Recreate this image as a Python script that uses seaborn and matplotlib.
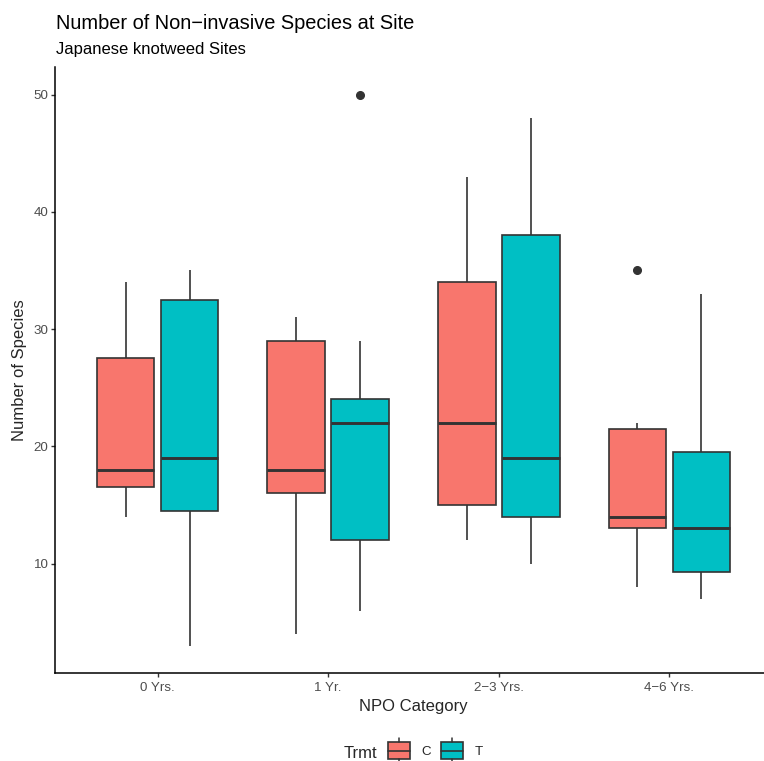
import matplotlib
matplotlib.use("Agg")
import matplotlib.pyplot as plt
from matplotlib.patches import Rectangle
from matplotlib.lines import Line2D
from matplotlib.legend_handler import HandlerBase
import numpy as np
import pandas as pd
import seaborn as sns

# ---------------- data ----------------
categories = ["0 Yrs.", "1 Yr.", "2\u22123 Yrs.", "4\u22126 Yrs."]
treatments = ["C", "T"]
trmt_colors = ["#F8766D", "#00BFC4"]

species_c_0yrs = [14, 16, 17, 18, 27, 28, 34]
species_t_0yrs = [3, 14, 15, 19, 32, 33, 35]
species_c_1yr = [4, 15, 17, 18, 28, 30, 31]
species_t_1yr = [6, 10, 12, 20, 22, 23, 24, 29, 50]
species_c_23yrs = [12, 14, 16, 22, 33, 35, 43]
species_t_23yrs = [10, 13, 15, 19, 37, 39, 48]
species_c_46yrs = [8, 12, 13, 13, 14, 14, 20, 22, 22, 35]
species_t_46yrs = [7, 8, 9, 10, 13, 13, 18, 20, 25, 33]

y_ticks = [10, 20, 30, 40, 50]

groups = [
    (categories[0], "C", species_c_0yrs), (categories[0], "T", species_t_0yrs),
    (categories[1], "C", species_c_1yr), (categories[1], "T", species_t_1yr),
    (categories[2], "C", species_c_23yrs), (categories[2], "T", species_t_23yrs),
    (categories[3], "C", species_c_46yrs), (categories[3], "T", species_t_46yrs),
]
rows = [(cat, trt, v) for cat, trt, vals in groups for v in vals]
df = pd.DataFrame(rows, columns=["category", "trmt", "species"])

# ---------------- style ----------------
sns.set_style("ticks")
plt.rcParams["font.family"] = ["Liberation Sans", "DejaVu Sans"]

W, H = 764, 761
fig = plt.figure(figsize=(W / 100, H / 100), dpi=100)
ax = fig.add_axes([55.3 / W, 1 - 673.3 / H, 716.4 / W, 606.3 / H])

edge = "#333333"
sns.boxplot(
    data=df, x="category", y="species", hue="trmt",
    order=categories, hue_order=treatments, palette=trmt_colors,
    saturation=1, width=0.75, gap=0.1, linecolor=edge, linewidth=1.2,
    showcaps=False,
    medianprops=dict(linewidth=2.1, color=edge),
    flierprops=dict(marker="o", markersize=5.5, markerfacecolor=edge,
                    markeredgecolor=edge),
    legend=False, ax=ax,
)

ax.set_xlim(-0.6, 3.6)
ax.set_ylim(0.65, 52.35)
ax.set_yticks(y_ticks)
ax.set_xlabel("")
ax.set_ylabel("")
for s in ["top", "right"]:
    ax.spines[s].set_visible(False)
for s in ["left", "bottom"]:
    ax.spines[s].set_linewidth(1.1)
    ax.spines[s].set_color("black")
ax.tick_params(length=2.8, width=1.0, color=edge, labelcolor="#4D4D4D",
               labelsize=9.6, pad=2.2)
ax.tick_params(axis="x", pad=3.2)

# ---------------- texts ----------------
fig.text(56 / W, 1 - 29 / H, "Number of Non\u2212invasive Species at Site",
         fontsize=14.4, va="baseline", ha="left", color="black")
fig.text(56 / W, 1 - 54 / H, "Japanese knotweed Sites",
         fontsize=12, va="baseline", ha="left", color="black")
fig.text(413.5 / W, 1 - 710.7 / H, "NPO Category", fontsize=12,
         va="baseline", ha="center")
fig.text(20.0 / W, 1 - 370 / H, "Number of Species", fontsize=12,
         va="center", ha="center", rotation=90)


# ---------------- legend ----------------
class BoxKeyHandler(HandlerBase):
    def __init__(self, color):
        super().__init__()
        self.color = color

    def create_artists(self, legend, orig_handle, xdescent, ydescent,
                       width, height, fontsize, trans):
        x0, y0 = -xdescent, -ydescent
        cy = y0 + height / 2
        bh = height * 0.95
        by = cy - bh / 2
        stub = height * 0.22
        rect = Rectangle((x0, by), width, bh, facecolor=self.color,
                         edgecolor=edge, linewidth=1.2, transform=trans)
        cx = x0 + width / 2
        med = Line2D([x0, x0 + width], [cy, cy], color=edge,
                     linewidth=1.2, transform=trans)
        top = Line2D([cx, cx], [by + bh, by + bh + stub], color=edge,
                     linewidth=1.1, transform=trans)
        bot = Line2D([cx, cx], [by - stub, by], color=edge, linewidth=1.1,
                     transform=trans)
        return [rect, med, top, bot]


fig.text(344 / W, 1 - 758.5 / H, "Trmt", fontsize=12, va="baseline", ha="left")
key_handles = [Rectangle((0, 0), 1, 1) for _ in trmt_colors]
fig.legend(key_handles, treatments, loc="center left",
           bbox_to_anchor=(388 / W, 1 - 750.5 / H), ncol=2, frameon=False,
           fontsize=9.6, handlelength=1.65, handleheight=1.71,
           handletextpad=0.85, columnspacing=0.75, borderpad=0,
           borderaxespad=0,
           handler_map={h: BoxKeyHandler(c) for h, c in zip(key_handles, trmt_colors)})

fig.savefig("out.png", dpi=100)
